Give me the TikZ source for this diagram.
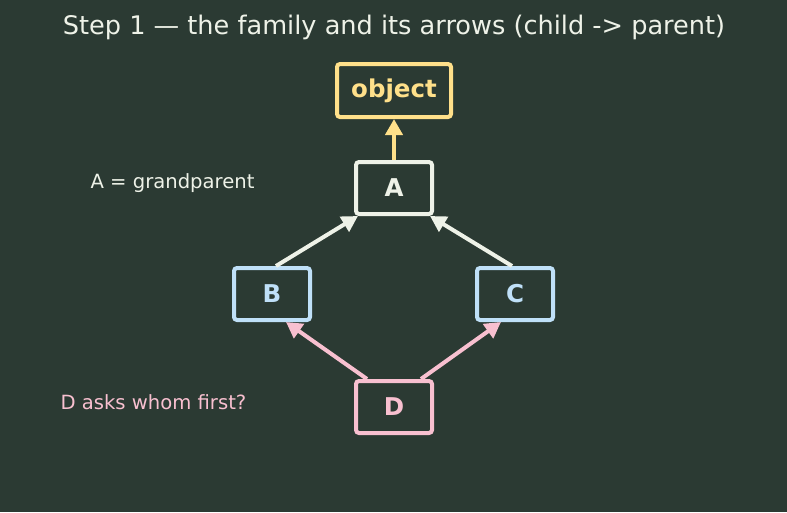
\documentclass[tikz,border=0pt]{standalone}
\usepackage{fontspec}
\setmainfont{DejaVu Sans}
\usetikzlibrary{arrows.meta}
\definecolor{bg}{HTML}{2B3A33}
\definecolor{ink}{HTML}{EEF2E8}
\definecolor{gold}{HTML}{FFE08A}
\definecolor{sky}{HTML}{BFE0F8}
\definecolor{rose}{HTML}{F8C0D0}
\begin{document}
\begin{tikzpicture}[x=1pt,y=-1pt,
  box/.style={draw,line width=4pt,rounded corners=3pt,fill=bg,minimum width=76pt,minimum height=52pt,inner sep=0pt,font=\fontsize{24.5}{29}\selectfont\bfseries},
  link/.style={line width=4pt,-{Triangle[length=16pt,width=17pt]}},
  note/.style={font=\fontsize{19.6}{23}\selectfont,anchor=west}]
\fill[bg] (0,0) rectangle (787,512);
\useasboundingbox (0,0) rectangle (787,512);
\node[text=ink,font=\fontsize{25.6}{30}\selectfont] (title) at (394,27) {Step 1 — the family and its arrows (child -> parent)};
\node[box,draw=gold,text=gold,minimum width=114pt,minimum height=53pt] (obj) at (394,90.5) {object};
\node[box,draw=ink,text=ink] (A) at (394,188) {A};
\node[box,draw=sky,text=sky] (B) at (272,294) {B};
\node[box,draw=sky,text=sky] (C) at (515,294) {C};
\node[box,draw=rose,text=rose] (D) at (394,407) {D};
\node[note,text=ink] (n1) at (87,183) {A = grandparent};
\node[note,text=rose] (n2) at (57,402) {D asks whom first?};
\draw[link,gold] (A.north) -- (obj.south);
\draw[link,ink] ([xshift=4pt]B.north) -- ([xshift=4pt]A.south west);
\draw[link,ink] ([xshift=-3pt]C.north) -- ([xshift=-4pt]A.south east);
\draw[link,rose] ([xshift=-27pt]D.north) -- ([xshift=14pt]B.south);
\draw[link,rose] ([xshift=27pt]D.north) -- ([xshift=-14pt]C.south);
\end{tikzpicture}
\end{document}
